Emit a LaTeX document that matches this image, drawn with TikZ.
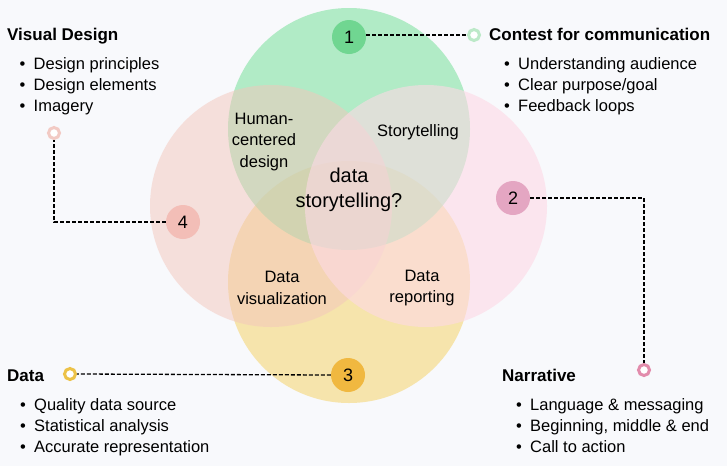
\documentclass[tikz,border=0pt]{standalone}
\usepackage{fontspec}
\setmainfont{Liberation Sans}
\definecolor{bgc}{RGB}{248,249,252}
\definecolor{vgreen}{RGB}{131,226,162}
\definecolor{vpink}{RGB}{253,217,229}
\definecolor{vsalmon}{RGB}{244,198,188}
\definecolor{vyellow}{RGB}{245,214,119}
\definecolor{bgreen}{RGB}{112,214,145}
\definecolor{bpink}{RGB}{228,166,194}
\definecolor{byellow}{RGB}{240,184,64}
\definecolor{bsalmon}{RGB}{243,190,183}
\definecolor{rgreen}{RGB}{188,233,200}
\definecolor{rpink}{RGB}{226,140,172}
\definecolor{ryellow}{RGB}{236,194,72}
\definecolor{rsalmon}{RGB}{242,202,196}
\begin{document}
\begin{tikzpicture}[x=1pt,y=-1pt,
  venn/.style={fill opacity=0.6},
  badge/.style={circle, minimum size=34pt, inner sep=0pt, font=\fontsize{18}{18}\selectfont},
  ring/.style={circle, minimum size=11pt, inner sep=0pt, line width=3pt, fill=white},
  conn/.style={dash pattern=on 4pt off 2pt, line width=1.3pt, black},
  title/.style={anchor=base west, inner sep=0pt, font=\fontsize{17}{17}\selectfont\bfseries},
  item/.style={anchor=base west, inner sep=0pt, font=\fontsize{16.5}{16.5}\selectfont},
  lbl/.style={align=center, inner sep=0pt, font=\fontsize{16.5}{21.5}\selectfont},
  biglbl/.style={align=center, inner sep=0pt, font=\fontsize{20}{25}\selectfont}
]
\newcommand{\bul}{\makebox[14pt][l]{\textbullet}}
\useasboundingbox (0,0) rectangle (727,466);
\fill[bgc] (0,0) rectangle (727,466);

% Venn circles
\fill[vyellow, venn] (349,282) circle[radius=121pt];
\fill[vgreen, venn] (349,129) circle[radius=121pt];
\fill[vsalmon, fill opacity=0.5] (271,206) circle[radius=121pt];
\fill[vpink, venn] (426,206) circle[radius=121pt];

% Venn labels
\node[lbl] (hcd) at (264,142) {Human-\\centered\\design};
\node[lbl] (story) at (418,132) {Storytelling};
\node[biglbl] (ds) at (349,190) {data\\storytelling?};
\node[lbl] (dv) at (282,288) {Data\\visualization};
\node[lbl] (dr) at (422,288) {Data\\reporting};

% badges
\node[badge, fill=bgreen] (b1) at (349,37) {1};
\node[badge, fill=bpink] (b2) at (513,198) {2};
\node[badge, fill=byellow] (b3) at (348,375) {3};
\node[badge, fill=bsalmon] (b4) at (183,222) {4};

% rings
\node[ring, draw=rgreen] (r1) at (474,35) {};
\node[ring, draw=rpink] (r2) at (644,370) {};
\node[ring, draw=ryellow] (r3) at (70,374) {};
\node[ring, draw=rsalmon] (r4) at (54,133) {};

% connectors
\draw[conn] (b1.east |- r1) -- (r1.west);
\draw[conn] (b2.east) -| (r2.north);
\draw[conn] (b3.west) -- (r3.east);
\draw[conn] (b4.west) -| (r4.south);

% Visual Design
\node[title] (t4) at (7,40) {Visual Design};
\node[item] (t4a) at (19.5,69) {\bul Design principles};
\node[item] (t4b) at (19.5,90) {\bul Design elements};
\node[item] (t4c) at (19.5,111) {\bul Imagery};

% Contest for communication
\node[title] (t1) at (489,40) {Contest for communication};
\node[item] (t1a) at (504,69) {\bul Understanding audience};
\node[item] (t1b) at (504,90) {\bul Clear purpose/goal};
\node[item] (t1c) at (504,111) {\bul Feedback loops};

% Data
\node[title] (t3) at (7,381) {Data};
\node[item] (t3a) at (20,410) {\bul Quality data source};
\node[item] (t3b) at (20,431) {\bul Statistical analysis};
\node[item] (t3c) at (20,452) {\bul Accurate representation};

% Narrative
\node[title] (t2) at (502,381) {Narrative};
\node[item] (t2a) at (516,410) {\bul Language \& messaging};
\node[item] (t2b) at (516,431) {\bul Beginning, middle \& end};
\node[item] (t2c) at (516,452) {\bul Call to action};
\end{tikzpicture}
\end{document}
